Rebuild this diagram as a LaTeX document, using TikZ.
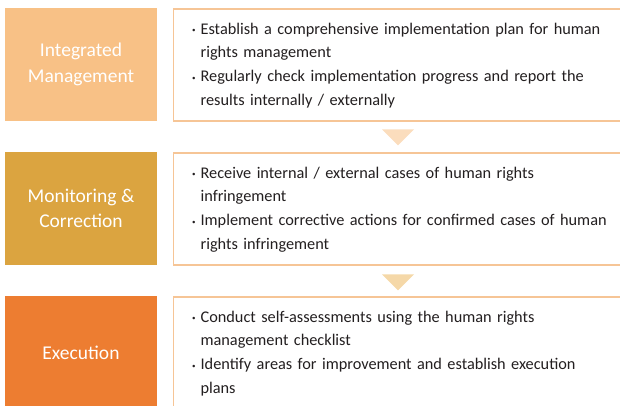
\documentclass[tikz,border=0pt]{standalone}
\usepackage{fontspec}
\setmainfont{Carlito}
\usepackage{xcolor}
\usetikzlibrary{positioning,shapes.geometric}

\definecolor{stepA}{HTML}{F8C186}
\definecolor{stepB}{HTML}{DBA440}
\definecolor{stepC}{HTML}{ED7D31}
\definecolor{frameC}{HTML}{F6C596}
\definecolor{triA}{HTML}{FBDDBD}
\definecolor{triB}{HTML}{F5D8A8}
\definecolor{txtC}{HTML}{231F20}

\newcommand{\bul}{\raisebox{0.15ex}{\scriptsize\textbullet}}

\begin{document}
\begin{tikzpicture}[
    x=1pt,y=1pt,
    stage/.style={
      fill=#1,text=white,align=center,
      font=\fontsize{19.5}{25.5}\selectfont,
      minimum width=152pt,minimum height=113pt,inner sep=0pt},
    detail/.style={
      draw=frameC,line width=1.2pt,fill=white,text=txtC,
      font=\fontsize{16.3}{23.8}\selectfont,
      text width=414pt,inner xsep=18.5pt,align=left,
      minimum height=112pt},
    tri/.style={
      isosceles triangle,isosceles triangle apex angle=90,
      shape border rotate=-90,fill=#1,inner sep=0pt,
      minimum height=16pt,minimum width=30pt}
]
\useasboundingbox (0,0) rectangle (620,-405);

\node[stage=stepA] (integ) at (81,-64.5)  {Integrated\\Management};
\node[stage=stepB] (monit) at (81,-208.5) {Monitoring \&\\Correction};
\node[stage=stepC] (exec)  at (81,-352.5) {Execution};

\node[detail,anchor=west] (dA) at (173,-65) {%
  \begin{tabular}{@{}l@{\hspace{5pt}}l@{}}
  \bul & Establish a comprehensive implementation plan for human\\
       & rights management\\
  \bul & Regularly check implementation progress and report the\\
       & results internally / externally
  \end{tabular}};
\node[detail,anchor=west] (dB) at (173,-209) {%
  \begin{tabular}{@{}l@{\hspace{5pt}}l@{}}
  \bul & Receive internal / external cases of human rights\\
       & infringement\\
  \bul & Implement corrective actions for confirmed cases of human\\
       & rights infringement
  \end{tabular}};
\node[detail,anchor=west] (dC) at (173,-353) {%
  \begin{tabular}{@{}l@{\hspace{5pt}}l@{}}
  \bul & Conduct self-assessments using the human rights\\
       & management checklist\\
  \bul & Identify areas for improvement and establish execution\\
       & plans
  \end{tabular}};

% arrows between the steps
\node[tri=triA] (tA) at (398,-136) {};
\node[tri=triB] (tB) at (398,-281) {};
\end{tikzpicture}
\end{document}
